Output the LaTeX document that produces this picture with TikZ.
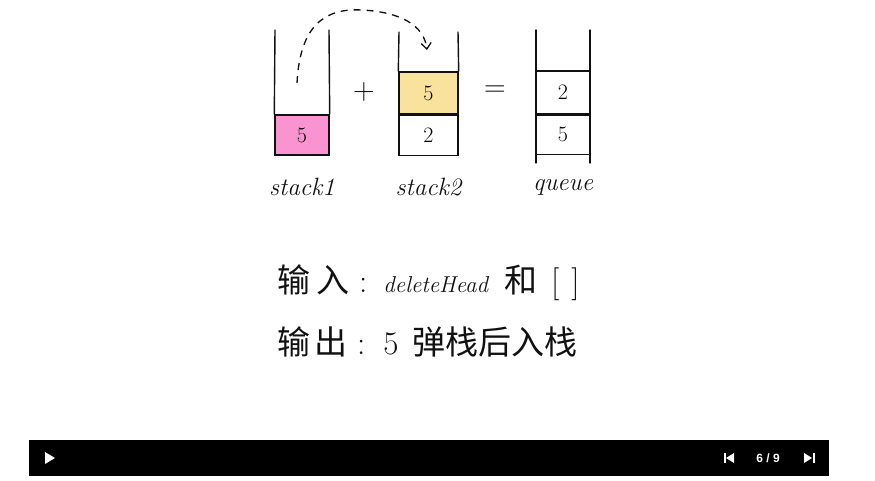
\documentclass[tikz,border=0pt]{standalone}
\usepackage{fontspec}
\newfontfamily\cjk{Noto Sans CJK SC}
\newfontfamily\barfont{Liberation Sans}
\usetikzlibrary{arrows.meta,positioning}
\definecolor{cpink}{HTML}{F994D1}
\definecolor{cyellow}{HTML}{F9E29C}
\definecolor{ink}{HTML}{111111}
\begin{document}
\begin{tikzpicture}[x=1pt,y=-1pt,
    wall/.style={ink,line width=1.4pt,line cap=round},
    cell/.style={draw=ink,line width=1.4pt,inner sep=0pt,font=\fontsize{22}{22}\selectfont},
    lbl/.style={font=\fontsize{25}{25}\selectfont\itshape,color=ink},
    sym/.style={font=\fontsize{30}{30}\selectfont,color=ink},
    say/.style={font=\fontsize{33}{35}\selectfont,color=ink,anchor=west,inner sep=0pt},
    ctl/.style={white}]
  \useasboundingbox (0,0) rectangle (875,481);
  % stack1
  \node[cell,fill=cpink,minimum width=54pt,minimum height=40pt] (s1a) at (302,135) {5};
  \draw[wall] (275,30) -- (s1a.north west);
  \draw[wall] (329,30) -- (s1a.north east);
  \node[lbl,below=19pt of s1a] (s1lbl) {stack1};
  % stack2
  \node[cell,fill=cyellow,minimum width=59pt,minimum height=42pt] (s2a) at (428.5,93) {5};
  \node[cell,fill=white,minimum width=59pt,minimum height=40pt,below=0pt of s2a] (s2b) {2};
  \draw[wall] (399,32) -- (s2a.north west);
  \draw[wall] (458,32) -- (s2a.north east);
  \node[lbl,below=19pt of s2b] (s2lbl) {stack2};
  % queue
  \node[cell,fill=white,minimum width=54pt,minimum height=43pt] (qa) at (563,92.5) {2};
  \node[cell,fill=white,minimum width=54pt,minimum height=39pt,below=0pt of qa] (qb) {5};
  \draw[wall] (536,30) -- (536,163);
  \draw[wall] (590,30) -- (590,163);
  \node[lbl,below=21pt of qb] (qlbl) {queue};
  % operators
  \node[sym] (plus) at (364,92) {+};
  \node[sym] (eq) at (495,91) {=};
  % move 5 over
  \coordinate (mvfrom) at (297,83);
  \coordinate (mvto) at (427,50);
  \draw[ink,line width=1.3pt,dash pattern=on 7pt off 6pt,-{Straight Barb[length=6pt,width=10pt]}]
    (mvfrom) .. controls (300,25) and (325,8) .. (362,10)
    .. controls (400,12) and (424,25) .. (mvto);
  % text
  \node[say] (inln) at (277,283) {{\cjk 输\hspace{6pt}入}\hspace{10pt}:\hspace{16pt}{\fontsize{23}{23}\selectfont\itshape deleteHead}\hspace{16pt}{\cjk 和}\hspace{14pt}[\hspace{12pt}]};
  \node[say] (outln) at (277,342) {{\cjk 输\hspace{4pt}出}\hspace{10pt}:\hspace{18pt}5\hspace{14pt}{\cjk 弹栈后入栈}};
  % player bar
  \fill[black] (29,440) rectangle (829,476);
  \fill[ctl] (45,452) -- (55,458) -- (45,464) -- cycle;
  \fill[ctl] (723.5,453) rectangle (725.5,463);
  \fill[ctl] (734,453) -- (726,458) -- (734,463) -- cycle;
  \node[ctl,font=\barfont\bfseries\fontsize{12}{12}\selectfont] (page) at (768,458) {6 / 9};
  \fill[ctl] (804,453) -- (812,458) -- (804,463) -- cycle;
  \fill[ctl] (812.5,453) rectangle (814.5,463);
\end{tikzpicture}
\end{document}
